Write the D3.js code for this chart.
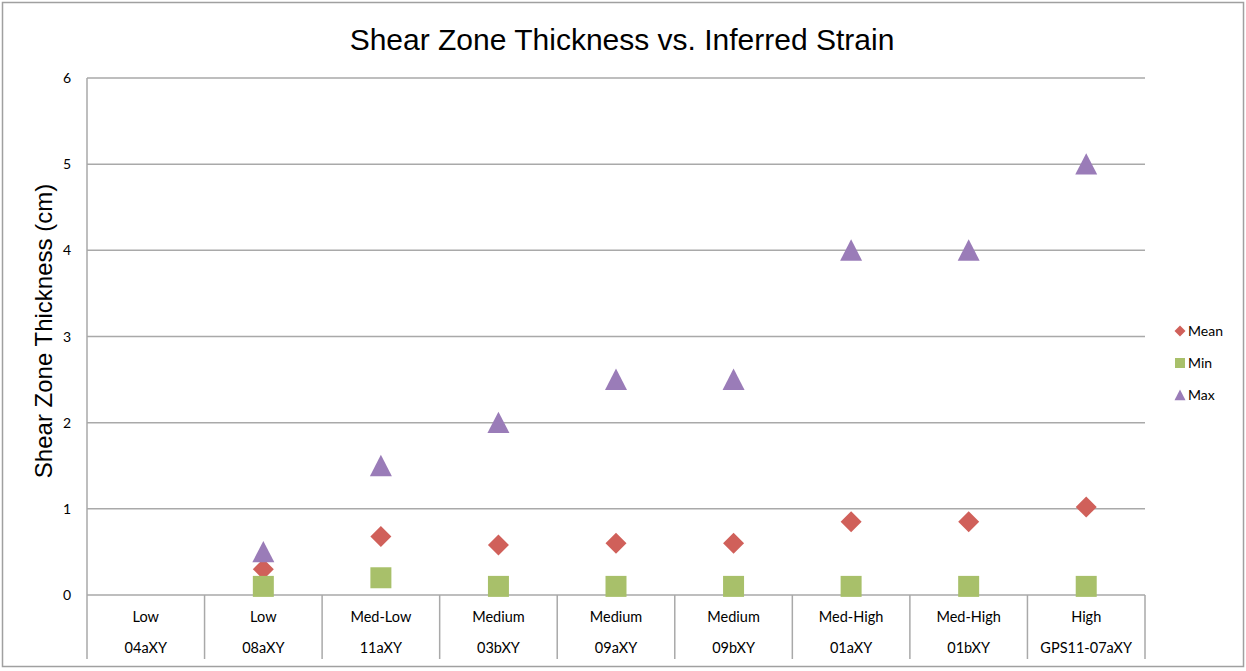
<!DOCTYPE html>
<html>
<head>
<meta charset="utf-8">
<script src="https://cdn.jsdelivr.net/npm/d3@7"></script>
<style>
  body { margin: 0; background: #fff; }
  text { font-family: Lato, "Open Sans", sans-serif; fill: #000; }
</style>
</head>
<body>
<svg width="1246" height="671"></svg>
<script>
(function () {

  // categories: strain level + sample name
  var strain = ['Low', 'Low', 'Med-Low', 'Medium', 'Medium', 'Medium', 'Med-High', 'Med-High', 'High']
  var samples = ['04aXY', '08aXY', '11aXY', '03bXY', '09aXY', '09bXY', '01aXY', '01bXY', 'GPS11-07aXY']

  // series values (null = no point)
  var meanValues = [null, 0.3, 0.68, 0.58, 0.6, 0.6, 0.85, 0.85, 1.02]
  var minValues = [null, 0.1, 0.2, 0.1, 0.1, 0.1, 0.1, 0.1, 0.1]
  var maxValues = [null, 0.5, 1.5, 2, 2.5, 2.5, 4, 4, 5]

  var yTicks = [0, 1, 2, 3, 4, 5, 6]

  // square turned 45 degrees, size = width across
  var diamond = {
    draw: function (ctx, size) {
      var r = size / 2
      ctx.moveTo(0, -r); ctx.lineTo(r, 0); ctx.lineTo(0, r); ctx.lineTo(-r, 0); ctx.closePath()
    }
  }
  var square = {
    draw: function (ctx, size) {
      var r = size / 2
      ctx.rect(-r, -r, size, size)
    }
  }
  // triangle centred on its bounding box
  var triangle = {
    draw: function (ctx, size) {
      var r = size / 2
      ctx.moveTo(0, -r); ctx.lineTo(r, r * 0.95); ctx.lineTo(-r, r * 0.95); ctx.closePath()
    }
  }

  var series = [
    { name: 'Mean', values: meanValues, color: '#d0605a', symbol: diamond, size: 21, lsize: 11 },
    { name: 'Min', values: minValues, color: '#a8c06a', symbol: square, size: 21, lsize: 10 },
    { name: 'Max', values: maxValues, color: '#9a7cb8', symbol: triangle, size: 22, lsize: 11 }
  ]

  var svg = d3.select('svg')
  var left = 87, right = 1145, top = 78, bottom = 595

  // outer frame
  svg.append('rect')
    .attr('x', 2.5).attr('y', 2.5)
    .attr('width', 1241).attr('height', 664)
    .attr('fill', 'none').attr('stroke', '#a0a0a0').attr('stroke-width', 1.5)

  var xScale = d3.scaleBand().domain(samples).range([left, right]).padding(0)
  var yScale = d3.scaleLinear().domain([0, 6]).range([bottom, top])

  // gridlines
  svg.selectAll('.grid')
    .data(yTicks)
    .enter().append('line')
    .attr('x1', left).attr('x2', right)
    .attr('y1', d => yScale(d)).attr('y2', d => yScale(d))
    .attr('stroke', '#a9a9a9').attr('stroke-width', 1.5)

  // y axis line
  svg.append('line')
    .attr('x1', left).attr('x2', left)
    .attr('y1', top).attr('y2', bottom)
    .attr('stroke', '#a9a9a9').attr('stroke-width', 1.5)

  // y tick labels
  svg.selectAll('.ytick')
    .data(yTicks)
    .enter().append('text')
    .attr('x', 71)
    .attr('y', d => yScale(d) + 5)
    .attr('text-anchor', 'end')
    .attr('font-size', 14)
    .text(d => d)

  // x category separators
  var bounds = samples.map(d => xScale(d)).concat([right])
  svg.selectAll('.xsep')
    .data(bounds)
    .enter().append('line')
    .attr('x1', d => d).attr('x2', d => d)
    .attr('y1', bottom).attr('y2', 659)
    .attr('stroke', '#a9a9a9').attr('stroke-width', 1.5)

  // x labels, two rows
  svg.selectAll('.xlab1')
    .data(strain)
    .enter().append('text')
    .attr('x', (d, i) => xScale(samples[i]) + xScale.bandwidth() / 2)
    .attr('y', 622)
    .attr('text-anchor', 'middle')
    .attr('font-size', 14.5)
    .text(d => d)

  svg.selectAll('.xlab2')
    .data(samples)
    .enter().append('text')
    .attr('x', d => xScale(d) + xScale.bandwidth() / 2)
    .attr('y', 653)
    .attr('text-anchor', 'middle')
    .attr('font-size', 14.5)
    .text(d => d)

  // markers
  series.forEach(function (s) {
    var pts = s.values.map((v, i) => ({ v: v, cat: samples[i] })).filter(d => d.v != null)
    svg.selectAll('.pt-' + s.name)
      .data(pts)
      .enter().append('path')
      .attr('d', d3.symbol().type(s.symbol).size(s.size))
      .attr('transform', d => 'translate(' + (xScale(d.cat) + xScale.bandwidth() / 2) + ',' + yScale(d.v) + ')')
      .attr('fill', s.color)
  })

  // title
  svg.append('text')
    .attr('x', 622).attr('y', 50)
    .attr('text-anchor', 'middle')
    .attr('font-size', 30)
    .style('font-family', '"Liberation Sans", Arial, sans-serif')
    .text('Shear Zone Thickness vs. Inferred Strain')

  // y axis title
  svg.append('text')
    .attr('transform', 'translate(52,331) rotate(-90)')
    .attr('text-anchor', 'middle')
    .attr('font-size', 24)
    .style('font-family', '"Liberation Sans", Arial, sans-serif')
    .text('Shear Zone Thickness (cm)')

  // legend
  var legend = svg.selectAll('.legend')
    .data(series)
    .enter().append('g')
    .attr('transform', (d, i) => 'translate(1180,' + (331 + i * 32) + ')')
  legend.append('path')
    .attr('d', d => d3.symbol().type(d.symbol).size(d.lsize)())
    .attr('fill', d => d.color)
  legend.append('text')
    .attr('x', 8).attr('y', 5)
    .attr('font-size', 14)
    .text(d => d.name)

})()
</script>
</body>
</html>
